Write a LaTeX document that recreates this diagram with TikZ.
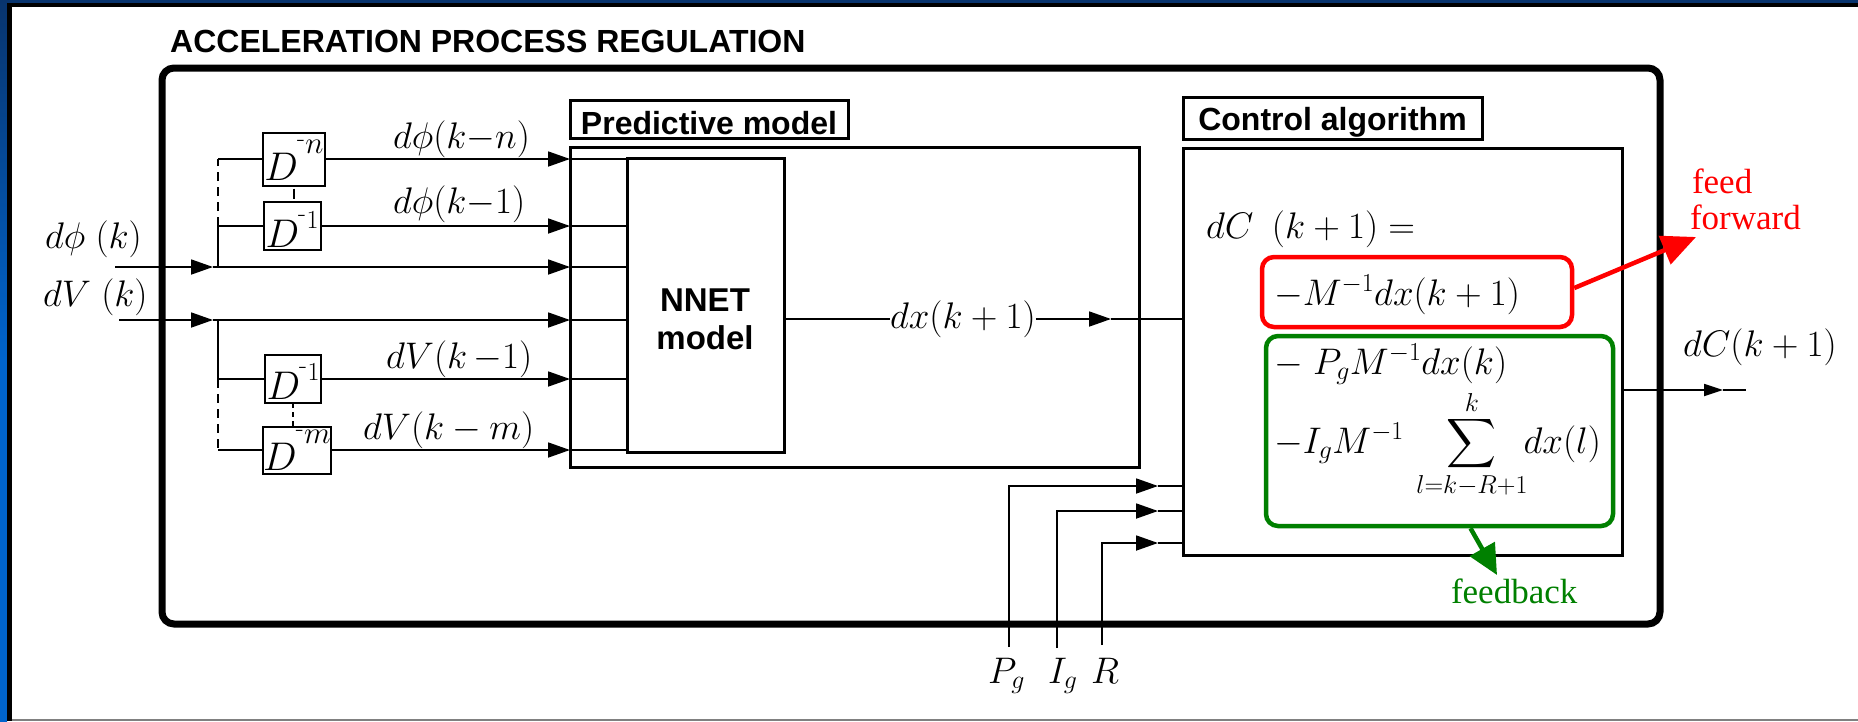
\RequirePackage{fix-cm}
\documentclass[tikz,border=0pt]{standalone}
\usepackage{amsmath}
\usepackage{graphicx}
\usepackage{fontspec}
\newfontfamily\arialf{Liberation Sans}
\newfontfamily\tnr{Liberation Serif}
\usetikzlibrary{arrows.meta}
\definecolor{navytop}{RGB}{8,52,110}
\definecolor{bluebr}{RGB}{0,100,204}
\definecolor{fbgreen}{RGB}{0,128,0}
\definecolor{framegray}{RGB}{128,128,128}
\newcommand\mfont{\fontsize{37}{44}\selectfont}
\newcommand\dsup[3]{$D$\kern-1pt\raisebox{#2}{\fontsize{#3}{#3}\selectfont\raisebox{7pt}{\fontsize{26}{26}\selectfont -}\kern0.5pt#1}}
\newcommand\bigsum{\mathop{\vcenter{\hbox{\resizebox*{50pt}{55pt}{$\displaystyle\sum$}}}}}
\begin{document}
\begin{tikzpicture}[x=1pt,y=-1pt,
  wire/.style={line width=1.8pt},
  arr/.style={-{Triangle[length=22pt,width=15pt]}},
  blk/.style={draw, line width=3pt, inner sep=0pt, outer sep=0pt},
  dbox/.style={draw, line width=2pt, inner sep=0pt, outer sep=0pt, font=\fontsize{40}{44}\selectfont},
  lbl/.style={inner sep=0pt, outer sep=0pt, font=\mfont},
  sansb/.style={font=\arialf\bfseries\fontsize{32}{38}\selectfont},
  serifl/.style={inner sep=0pt, outer sep=0pt, font=\tnr\fontsize{35}{36}\selectfont},
  dsh/.style={dash pattern=on 9pt off 6pt}]
\useasboundingbox (0,0) rectangle (1858,721);
% frame
\fill[white] (0,0) rectangle (1858,721);
\shade[top color=navytop, bottom color=bluebr, middle color=bluebr] (0,0) rectangle (7,721);
\fill[navytop] (0,0) rectangle (1858,2.5);
\fill[black] (7,2.5) rectangle (1858,7);
\fill[black] (7,2.5) rectangle (12,721);
\fill[framegray] (12,718.5) rectangle (1858,721);

% title
\node[anchor=base west, inner sep=0pt, sansb] (title) at (170,52) {ACCELERATION PROCESS REGULATION};

% predictive model
\node[blk, minimum width=569pt, minimum height=320pt] (pm) at (854.5,307) {};
\node[blk, minimum width=278pt, minimum height=38pt, sansb, text height=31pt, text depth=0pt] (pmlab) at (709,119) {Predictive model};
\node[blk, minimum width=157pt, minimum height=294pt] (nnet) at (705.5,305) {};
\node[align=center, inner sep=0pt, font=\arialf\bfseries\fontsize{33}{38}\selectfont] (nnettxt) at (705,319) {NNET\\model};

% control algorithm
\node[blk, minimum width=439pt, minimum height=407pt] (ctrl) at (1402.5,351.5) {};
\node[blk, minimum width=299pt, minimum height=42pt, sansb, text height=27pt, text depth=3pt] (ctrllab) at (1332.5,118) {Control algorithm};
\node[draw=red, line width=4.5pt, rounded corners=12pt, minimum width=310pt, minimum height=70pt] (ffbox) at (1417,292) {};
\node[draw=fbgreen, line width=4.5pt, rounded corners=12pt, minimum width=347pt, minimum height=190pt] (fbbox) at (1439.5,431) {};

\node[lbl, anchor=base west] (eq0) at (1206,238) {$dC\enspace(k+1)=$};
\node[lbl, anchor=base west] (eqff) at (1274,305) {$-M^{-1}dx(k+1)$};
\node[lbl, anchor=base west] (eqp) at (1274,374) {$-\;P_gM^{-1}dx(k)$};
\node[lbl, anchor=base west] (eqi) at (1274,453) {$-I_gM^{-1}\quad\bigsum\limits_{\makebox[0pt]{$\scriptstyle l=k-R+1$}}^{k}\;\;dx(l)$};

% delay boxes
\node[dbox, minimum width=62pt, minimum height=53pt, text height=48pt, text depth=5pt] (Dn) at (294,159) {\dsup{$n$}{27pt}{31}};
\node[dbox, minimum width=57pt, minimum height=48pt, text height=45pt, text depth=3pt] (D1p) at (292,226) {\dsup{1}{19pt}{26}};
\node[dbox, minimum width=56pt, minimum height=48pt, text height=44pt, text depth=4pt] (D1v) at (293,379) {\dsup{1}{19pt}{26}};
\node[dbox, minimum width=62pt, minimum height=47pt, text height=44pt, text depth=3pt] (Dm) at (297,450) {\dsup{$m$}{27pt}{31}};

% labels
\node[lbl, anchor=base west] (lphi) at (45,248) {$d\phi\;(k)$};
\node[lbl, anchor=base west] (lv) at (43,306) {$dV\;(k)$};
\node[lbl, anchor=base west] (lphin) at (393,148) {$d\phi(k{-}n)$};
\node[lbl, anchor=base west] (lphi1) at (393,213) {$d\phi(k{-}1)$};
\node[lbl, anchor=base west] (lv1) at (386,368) {$dV(k\,{-}1)$};
\node[lbl, anchor=base west] (lvm) at (363,439) {$dV(k-m)$};
\node[lbl, anchor=west] (dx) at (890,319) {$dx(k+1)$};
\node[lbl, anchor=base west] (dcout) at (1683,356) {$dC(k+1)$};
\node[lbl, anchor=base west] (Pg) at (988,683) {$P_g$};
\node[lbl, anchor=base west] (Ig) at (1048,683) {$I_g$};
\node[lbl, anchor=base west] (Rr) at (1091,683) {$R$};

% inputs
\coordinate (inp) at (115,267);
\coordinate (inv) at (119,320);
\coordinate (tp) at (213,267);
\coordinate (tv) at (213,320);
\coordinate (jp) at (218,267);
\coordinate (jv) at (218,320);
\draw[wire,arr] (inp) -- (tp);
\draw[wire] (tp) -- (jp);
\draw[wire,arr] (inv) -- (tv);
\draw[wire] (tv) -- (jv);
\draw[wire] (jp) |- (D1p.west);
\draw[wire,dsh] (jp |- D1p.west) -- (jp |- Dn.west);
\draw[wire] (jp |- Dn.west) -- (Dn.west);
\draw[wire] (jv) |- (D1v.west);
\draw[wire,dsh] (jv |- D1v.west) -- (jv |- Dm.west);
\draw[wire] (jv |- Dm.west) -- (Dm.west);
\draw[wire, shorten <=3pt, shorten >=3pt] (Dn.south) -- (Dn.south |- D1p.north);
\draw[wire, dash pattern=on 5pt off 4pt] (D1v.south) -- (D1v.south |- Dm.north);

\foreach \n in {Dn,D1p,D1v,Dm} {
  \draw[wire,arr] (\n.east) -- (\n.east -| pm.west);
  \draw[wire] (\n.east -| pm.west) -- (\n.east -| nnet.west);
}
\draw[wire,arr] (jp) -- (jp -| pm.west);
\draw[wire] (jp -| pm.west) -- (jp -| nnet.west);
\draw[wire,arr] (jv) -- (jv -| pm.west);
\draw[wire] (jv -| pm.west) -- (jv -| nnet.west);

% NNET output
\coordinate (tdx) at (1111,319);
\draw[wire] (nnet.east |- dx.west) -- (dx.west);
\draw[wire,arr] (dx.east) -- (tdx);
\draw[wire] (tdx) -- (tdx -| ctrl.west);

% parameters
\coordinate (pgb) at (1009,647);
\coordinate (pgt) at (1158,486);
\coordinate (igb) at (1057,648);
\coordinate (igt) at (1158,511);
\coordinate (rb) at (1102,645);
\coordinate (rt) at (1158,543);
\draw[wire,arr] (pgb) |- (pgt);
\draw[wire] (pgt) -- (pgt -| ctrl.west);
\draw[wire,arr] (igb) |- (igt);
\draw[wire] (igt) -- (igt -| ctrl.west);
\draw[wire,arr] (rb) |- (rt);
\draw[wire] (rt) -- (rt -| ctrl.west);

% output
\coordinate (ot) at (1723,390);
\coordinate (oe) at (1746,390);
\draw[wire,-{Triangle[length=19pt,width=12pt]}] (ctrl.east |- ot) -- (ot);
\draw[wire] (ot) -- (oe);

% outer box
\node[draw, line width=7pt, rounded corners=12pt, minimum width=1498pt, minimum height=556pt, inner sep=0pt, outer sep=0pt] (outer) at (911,346) {};

% annotations
\coordinate (ffend) at (1696,237);
\draw[red, line width=4.5pt, -{Triangle[length=34pt,width=30pt]}] ([yshift=4pt]ffbox.east) -- (ffend);
\coordinate (fbend) at (1497,575);
\draw[fbgreen, line width=4.5pt, -{Triangle[length=30pt,width=28pt]}] ([xshift=31pt]fbbox.south) -- (fbend);
\node[serifl, anchor=base west, text=red] (ff1) at (1692,193) {feed};
\node[serifl, anchor=base west, text=red] (ff2) at (1690,229) {forward};
\node[serifl, anchor=base west, text=fbgreen] (fb) at (1451,603) {feedback};
\end{tikzpicture}
\end{document}
